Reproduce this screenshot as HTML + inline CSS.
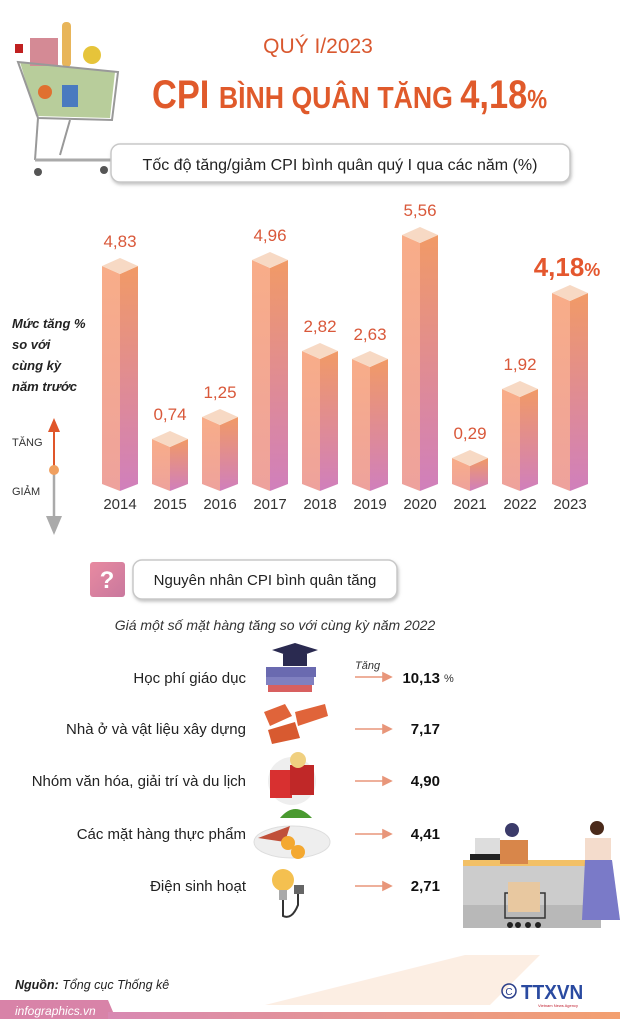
<!DOCTYPE html>
<html><head><meta charset="utf-8"><style>
html,body{margin:0;padding:0;background:#fff}
svg{display:block}
text{font-family:"Liberation Sans",sans-serif}
</style></head><body>
<svg width="620" height="1019" viewBox="0 0 620 1019" xmlns="http://www.w3.org/2000/svg">
<defs>
<linearGradient id="lf" x1="0" y1="0" x2="0" y2="1"><stop offset="0" stop-color="#f8ad88"/><stop offset="1" stop-color="#eea29c"/></linearGradient>
<linearGradient id="rf" x1="0" y1="0" x2="0" y2="1"><stop offset="0" stop-color="#f19a66"/><stop offset="1" stop-color="#d07fbc"/></linearGradient>
<linearGradient id="ft" x1="0" y1="0" x2="1" y2="0"><stop offset="0" stop-color="#d889b3"/><stop offset="1" stop-color="#f3a070"/></linearGradient>
<linearGradient id="q" x1="0" y1="0" x2="1" y2="1"><stop offset="0" stop-color="#e88aa0"/><stop offset="1" stop-color="#c9789e"/></linearGradient>
<filter id="sh" x="-5%" y="-20%" width="110%" height="150%"><feDropShadow dx="1" dy="2" stdDeviation="1.5" flood-color="#999" flood-opacity="0.6"/></filter>
</defs>

<!-- cart -->
<g>
<path d="M20 62 L115 72 L110 118 L36 116 Z" fill="#9ab870" opacity="0.7"/>
<rect x="30" y="38" width="28" height="28" fill="#d48a95"/>
<rect x="62" y="22" width="9" height="45" rx="4" fill="#e8b55a"/>
<circle cx="92" cy="55" r="9" fill="#e6c43a"/>
<rect x="62" y="85" width="16" height="22" fill="#4a7ac0"/>
<circle cx="45" cy="92" r="7" fill="#e07030"/>
<path d="M18 62 L118 72 L112 120 L38 118 Z" fill="none" stroke="#999" stroke-width="2"/>
<line x1="38" y1="118" x2="35" y2="160" stroke="#999" stroke-width="2"/>
<line x1="70" y1="120" x2="60" y2="155" stroke="#999" stroke-width="2"/>
<line x1="35" y1="160" x2="112" y2="160" stroke="#aaa" stroke-width="3"/>
<circle cx="38" cy="172" r="4" fill="#555"/><circle cx="104" cy="170" r="4" fill="#555"/>
<rect x="15" y="44" width="8" height="9" fill="#c02020"/>
</g>

<text x="318" y="53" text-anchor="middle" font-size="21" fill="#d9582f">QUÝ I/2023</text>
<text x="152" y="108" font-weight="bold" fill="#e05a2b" transform="translate(152 0) scale(0.86 1) translate(-152 0)"><tspan font-size="40">CPI </tspan><tspan font-size="31">BÌNH QUÂN TĂNG </tspan><tspan font-size="40">4,18</tspan><tspan font-size="26">%</tspan></text>

<rect x="111" y="144" width="459" height="38" rx="9" fill="#fff" stroke="#c8c8c8" stroke-width="1.5" filter="url(#sh)"/>
<text x="340" y="170" text-anchor="middle" font-size="16" fill="#222">Tốc độ tăng/giảm CPI bình quân quý I qua các năm (%)</text>

<!-- left axis label -->
<g font-size="13" font-weight="bold" font-style="italic" fill="#222">
<text x="12" y="328">Mức tăng %</text><text x="12" y="349">so với</text><text x="12" y="370">cùng kỳ</text><text x="12" y="391">năm trước</text>
</g>
<line x1="54" y1="468" x2="54" y2="428" stroke="#e0562a" stroke-width="2"/>
<path d="M48 432 L54 418 L60 432 Z" fill="#e0562a"/>
<line x1="54" y1="472" x2="54" y2="520" stroke="#aaa" stroke-width="2.5"/>
<path d="M46 516 L54 535 L62 516 Z" fill="#aaa"/>
<circle cx="54" cy="470" r="5" fill="#f0a060"/>
<text x="12" y="446" font-size="11" fill="#333">TĂNG</text>
<text x="12" y="495" font-size="11" fill="#333">GIẢM</text>

<!-- bars -->
<g>
<path d="M102 266 L120 274 L120 491 L102 484Z" fill="url(#lf)"/><path d="M120 274 L138 266 L138 484 L120 491Z" fill="url(#rf)"/><path d="M102 266 L120 258 L138 266 L120 274Z" fill="#f7d9c4"/>
<path d="M152 439 L170 447 L170 491 L152 484Z" fill="url(#lf)"/><path d="M170 447 L188 439 L188 484 L170 491Z" fill="url(#rf)"/><path d="M152 439 L170 431 L188 439 L170 447Z" fill="#f7d9c4"/>
<path d="M202 417 L220 425 L220 491 L202 484Z" fill="url(#lf)"/><path d="M220 425 L238 417 L238 484 L220 491Z" fill="url(#rf)"/><path d="M202 417 L220 409 L238 417 L220 425Z" fill="#f7d9c4"/>
<path d="M252 260 L270 268 L270 491 L252 484Z" fill="url(#lf)"/><path d="M270 268 L288 260 L288 484 L270 491Z" fill="url(#rf)"/><path d="M252 260 L270 252 L288 260 L270 268Z" fill="#f7d9c4"/>
<path d="M302 351 L320 359 L320 491 L302 484Z" fill="url(#lf)"/><path d="M320 359 L338 351 L338 484 L320 491Z" fill="url(#rf)"/><path d="M302 351 L320 343 L338 351 L320 359Z" fill="#f7d9c4"/>
<path d="M352 359 L370 367 L370 491 L352 484Z" fill="url(#lf)"/><path d="M370 367 L388 359 L388 484 L370 491Z" fill="url(#rf)"/><path d="M352 359 L370 351 L388 359 L370 367Z" fill="#f7d9c4"/>
<path d="M402 235 L420 243 L420 491 L402 484Z" fill="url(#lf)"/><path d="M420 243 L438 235 L438 484 L420 491Z" fill="url(#rf)"/><path d="M402 235 L420 227 L438 235 L420 243Z" fill="#f7d9c4"/>
<path d="M452 458 L470 466 L470 491 L452 484Z" fill="url(#lf)"/><path d="M470 466 L488 458 L488 484 L470 491Z" fill="url(#rf)"/><path d="M452 458 L470 450 L488 458 L470 466Z" fill="#f7d9c4"/>
<path d="M502 389 L520 397 L520 491 L502 484Z" fill="url(#lf)"/><path d="M520 397 L538 389 L538 484 L520 491Z" fill="url(#rf)"/><path d="M502 389 L520 381 L538 389 L520 397Z" fill="#f7d9c4"/>
<path d="M552 293 L570 301 L570 491 L552 484Z" fill="url(#lf)"/><path d="M570 301 L588 293 L588 484 L570 491Z" fill="url(#rf)"/><path d="M552 293 L570 285 L588 293 L570 301Z" fill="#f7d9c4"/>
</g>
<g font-size="17" fill="#d9583a" text-anchor="middle">
<text x="120" y="247">4,83</text><text x="170" y="420">0,74</text><text x="220" y="398">1,25</text><text x="270" y="241">4,96</text><text x="320" y="332">2,82</text><text x="370" y="340">2,63</text><text x="420" y="216">5,56</text><text x="470" y="439">0,29</text><text x="520" y="370">1,92</text>
</g>
<text x="567" y="276" text-anchor="middle" font-weight="bold" fill="#e4572e"><tspan font-size="26">4,18</tspan><tspan font-size="18">%</tspan></text>
<g font-size="15" fill="#333" text-anchor="middle">
<text x="120" y="509">2014</text><text x="170" y="509">2015</text><text x="220" y="509">2016</text><text x="270" y="509">2017</text><text x="320" y="509">2018</text><text x="370" y="509">2019</text><text x="420" y="509">2020</text><text x="470" y="509">2021</text><text x="520" y="509">2022</text><text x="570" y="509">2023</text>
</g>

<!-- section 2 -->
<rect x="90" y="562" width="35" height="35" rx="3" fill="url(#q)"/>
<text x="107" y="588" text-anchor="middle" font-size="24" font-weight="bold" fill="#fff">?</text>
<rect x="133" y="560" width="264" height="39" rx="9" fill="#fff" stroke="#c8c8c8" stroke-width="1.5" filter="url(#sh)"/>
<text x="265" y="585" text-anchor="middle" font-size="15" fill="#222">Nguyên nhân CPI bình quân tăng</text>
<text x="275" y="630" text-anchor="middle" font-size="14" font-style="italic" fill="#333">Giá một số mặt hàng tăng so với cùng kỳ năm 2022</text>

<g font-size="15" fill="#222" text-anchor="end">
<text x="246" y="683">Học phí giáo dục</text>
<text x="246" y="734">Nhà ở và vật liệu xây dựng</text>
<text x="246" y="786">Nhóm văn hóa, giải trí và du lịch</text>
<text x="246" y="839">Các mặt hàng thực phẩm</text>
<text x="246" y="891">Điện sinh hoạt</text>
</g>
<g font-size="15" font-weight="bold" fill="#111" text-anchor="end">
<text x="440" y="683">10,13</text><text x="440" y="734">7,17</text><text x="440" y="786">4,90</text><text x="440" y="839">4,41</text><text x="440" y="891">2,71</text>
</g>
<text x="444" y="682" font-size="11" fill="#333">%</text>
<text x="355" y="669" font-size="11" font-style="italic" fill="#333">Tăng</text>
<g stroke="#e8967a" stroke-width="1.6" fill="#e8967a">
<line x1="355" y1="677" x2="385" y2="677"/><path d="M383 673 L391 677 L383 681Z"/>
<line x1="355" y1="729" x2="385" y2="729"/><path d="M383 725 L391 729 L383 733Z"/>
<line x1="355" y1="781" x2="385" y2="781"/><path d="M383 777 L391 781 L383 785Z"/>
<line x1="355" y1="834" x2="385" y2="834"/><path d="M383 830 L391 834 L383 838Z"/>
<line x1="355" y1="886" x2="385" y2="886"/><path d="M383 882 L391 886 L383 890Z"/>
</g>
<!-- icons -->
<rect x="266" y="667" width="50" height="10" fill="#6a6ab0"/><rect x="266" y="677" width="48" height="8" fill="#8080c0"/><rect x="268" y="685" width="44" height="7" fill="#d86060"/>
<path d="M272 650 L295 643 L318 650 L295 658Z" fill="#2a2a50"/><rect x="283" y="654" width="24" height="12" fill="#2a2a50"/>
<path d="M264 712 L285 704 L292 716 L270 726Z" fill="#e0643a"/><path d="M295 712 L325 704 L328 716 L298 726Z" fill="#e0643a"/><path d="M268 730 L295 722 L300 738 L272 744Z" fill="#d85a30"/>
<circle cx="292" cy="781" r="24" fill="#eee"/><rect x="270" y="770" width="22" height="28" fill="#d83030"/><rect x="290" y="765" width="24" height="30" fill="#c02828"/><circle cx="298" cy="760" r="8" fill="#f0d080"/>
<ellipse cx="292" cy="842" rx="38" ry="16" fill="#eee" stroke="#ddd"/><path d="M258 838 L290 826 L285 842Z" fill="#c0503a"/><circle cx="288" cy="843" r="7" fill="#f4a830"/><circle cx="298" cy="852" r="7" fill="#f4a830"/><path d="M280 818 Q295 800 312 818Z" fill="#4a9a30"/>
<circle cx="283" cy="880" r="11" fill="#f4c050"/><rect x="279" y="890" width="8" height="10" fill="#aaa"/><path d="M283 900 L283 916 Q292 920 298 905 L298 893" fill="none" stroke="#333" stroke-width="2"/><rect x="294" y="885" width="10" height="9" fill="#666"/>

<!-- beam and cashier -->
<path d="M265 1005 L465 955 L540 955 L490 1005Z" fill="#fbeadc" opacity="0.8"/>
<rect x="463" y="866" width="138" height="62" fill="#ccc"/>
<rect x="463" y="905" width="138" height="23" fill="#b8b8b8"/>
<rect x="463" y="860" width="138" height="6" fill="#f2c066"/>
<rect x="475" y="838" width="25" height="20" fill="#ddd"/><rect x="470" y="854" width="40" height="6" fill="#222"/>
<rect x="500" y="840" width="28" height="24" fill="#d8864a"/><circle cx="512" cy="830" r="7" fill="#3b3b6a"/>
<rect x="585" y="838" width="26" height="22" fill="#f4dccc"/><path d="M585 860 L612 860 L620 920 L582 920Z" fill="#7a7ac8"/><circle cx="597" cy="828" r="7" fill="#4a2a1a"/>
<rect x="505" y="893" width="40" height="25" fill="none" stroke="#333" stroke-width="1.5"/><rect x="508" y="882" width="32" height="30" fill="#e8c8a0"/>
<g fill="#222"><circle cx="510" cy="925" r="3"/><circle cx="518" cy="925" r="3"/><circle cx="528" cy="925" r="3"/><circle cx="538" cy="925" r="3"/></g>

<!-- footer -->
<text x="15" y="989" font-size="12.5" fill="#222"><tspan font-weight="bold" font-style="italic">Nguồn:</tspan><tspan font-style="italic"> Tổng cục Thống kê</tspan></text>
<path d="M0 1000 L108 1000 L116 1019 L0 1019Z" fill="#d883a8"/>
<rect x="108" y="1012" width="512" height="7" fill="url(#ft)"/>
<text x="15" y="1015" font-size="12" font-style="italic" fill="#fff">infographics.vn</text>
<circle cx="509" cy="991" r="7" fill="none" stroke="#2a3e8a" stroke-width="1.5"/><text x="509" y="995" font-size="10" text-anchor="middle" fill="#2a3e8a">C</text>
<text x="521" y="999" font-size="20" font-weight="bold" fill="#2a4aa0" transform="translate(521 0) scale(0.95 1) translate(-521 0)">TTXVN</text>
<text x="558" y="1007" font-size="4" fill="#c02030" text-anchor="middle">Vietnam News Agency</text>
</svg>
</body></html>
